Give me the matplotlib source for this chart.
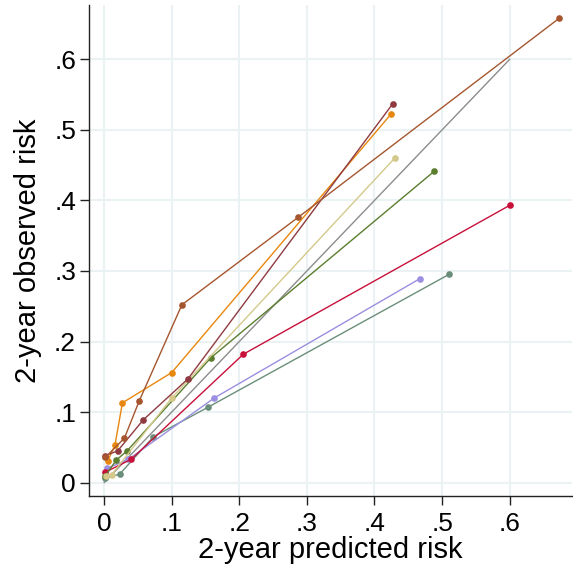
import matplotlib
matplotlib.use("Agg")
import matplotlib.pyplot as plt

plt.rcParams['font.family'] = ['Liberation Sans', 'DejaVu Sans']

# series: predicted (x) and observed (y) risk
sienna_x = [0.002, 0.030, 0.052, 0.115, 0.287, 0.673]
sienna_y = [0.036, 0.063, 0.116, 0.252, 0.376, 0.658]
maroon_x = [0.001, 0.020, 0.058, 0.124, 0.427]
maroon_y = [0.038, 0.045, 0.089, 0.147, 0.537]
orange_x = [0.005, 0.016, 0.027, 0.100, 0.425]
orange_y = [0.030, 0.053, 0.113, 0.156, 0.523]
khaki_x = [0.003, 0.011, 0.100, 0.430]
khaki_y = [0.010, 0.011, 0.120, 0.460]
olive_x = [0.002, 0.018, 0.034, 0.158, 0.488]
olive_y = [0.010, 0.032, 0.045, 0.177, 0.441]
crimson_x = [0.002, 0.040, 0.206, 0.600]
crimson_y = [0.015, 0.033, 0.182, 0.393]
purple_x = [0.004, 0.036, 0.163, 0.467]
purple_y = [0.020, 0.033, 0.120, 0.289]
teal_x = [0.001, 0.023, 0.073, 0.154, 0.510]
teal_y = [0.006, 0.012, 0.065, 0.107, 0.295]
ref_x = [0.0, 0.6]
ref_y = [0.0, 0.6]

ticks = [0, 0.1, 0.2, 0.3, 0.4, 0.5, 0.6]
tick_labels = ['0', '.1', '.2', '.3', '.4', '.5', '.6']

fig = plt.figure(figsize=(5.73, 5.75), dpi=100)
ax = fig.add_axes([0.1558, 0.1374, 0.8422, 0.8539])

ax.plot(ref_x, ref_y, color='#8c8c8c', lw=1.0, zorder=2)

series = [
    (teal_x, teal_y, '#6b8e7a'),
    (purple_x, purple_y, '#9a8fe0'),
    (crimson_x, crimson_y, '#c8103a'),
    (olive_x, olive_y, '#5a7d2e'),
    (khaki_x, khaki_y, '#d4c98a'),
    (orange_x, orange_y, '#e8870e'),
    (maroon_x, maroon_y, '#8e3a40'),
    (sienna_x, sienna_y, '#a5562e'),
]
for xs, ys, c in series:
    ax.plot(xs, ys, color=c, lw=1.0, marker='o', markersize=4.8,
            markeredgewidth=0, zorder=3)

ax.set_xlim(-0.022, 0.692)
ax.set_ylim(-0.019, 0.677)
ax.set_xticks(ticks)
ax.set_xticklabels(tick_labels)
ax.set_yticks(ticks)
ax.set_yticklabels(tick_labels)
ax.grid(True, color='#eaf2f3', lw=1.5, zorder=0)
ax.set_axisbelow(True)
for s in ['top', 'right']:
    ax.spines[s].set_visible(False)
for s in ['left', 'bottom']:
    ax.spines[s].set_color('#222222')
    ax.spines[s].set_linewidth(1.0)
ax.tick_params(axis='both', direction='out', length=6.5, width=1.0,
               color='#222222', labelsize=19)
ax.tick_params(axis='x', pad=5)
ax.tick_params(axis='y', pad=3)
ax.set_xlabel('2-year predicted risk', fontsize=21, labelpad=0)
ax.set_ylabel('2-year observed risk', fontsize=21, labelpad=9)

fig.savefig('out.png', dpi=100)
